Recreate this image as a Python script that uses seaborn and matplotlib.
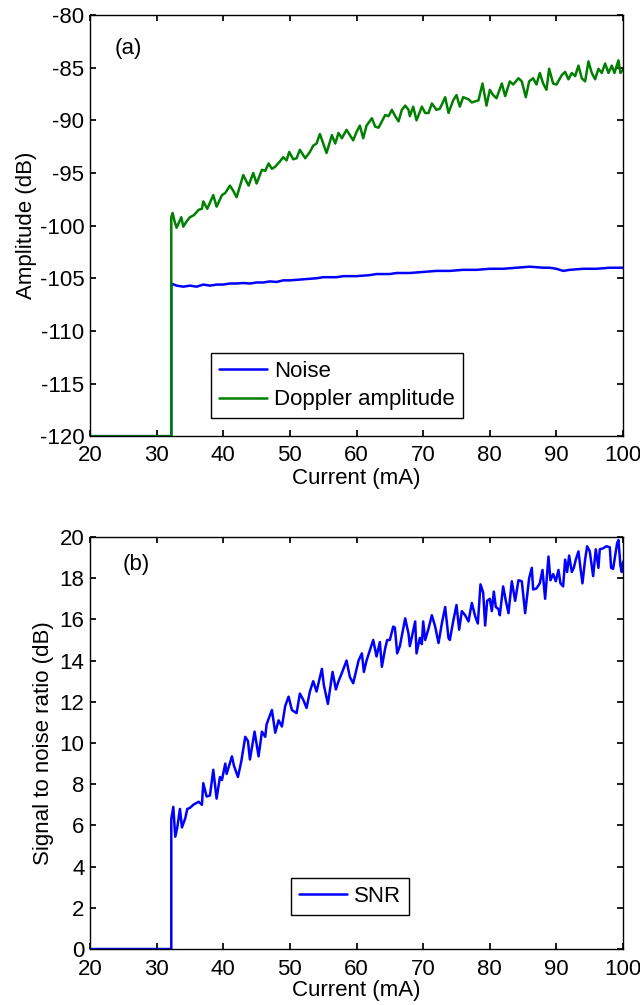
import numpy as np
import pandas as pd
import matplotlib
matplotlib.use("Agg")
import matplotlib.pyplot as plt
import seaborn as sns

# (current in mA, levels in dB)
threshold = 32.2
floor_db = -120.0

noise_x = [20, threshold, threshold, 33, 34, 35, 36, 37, 38, 39, 40, 41, 42, 43, 44, 45, 46, 47,
           48, 49, 50, 52, 54, 55, 57, 58, 60, 62, 63, 65, 66, 68, 70, 72, 74, 76, 78, 80,
           82, 84, 86, 88, 89, 90, 91, 92, 94, 96, 98, 100]
noise_db = [floor_db, floor_db, -105.5, -105.7, -105.8, -105.7, -105.8, -105.6, -105.7, -105.6,
            -105.6, -105.5, -105.5, -105.45, -105.5, -105.4, -105.4, -105.3, -105.35, -105.2,
            -105.2, -105.1, -105.0, -104.9, -104.9, -104.8, -104.8, -104.7, -104.6, -104.6,
            -104.5, -104.5, -104.4, -104.3, -104.3, -104.2, -104.2, -104.1, -104.1, -104.0,
            -103.9, -104.0, -104.0, -104.1, -104.3, -104.2, -104.1, -104.1, -104.0, -104.0]

doppler_x = [20, threshold, threshold, 32.4, 32.7, 33.0, 33.7, 34.0, 34.5, 35.0, 35.6, 36.3, 36.8,
             37.0, 37.6, 38.5, 39.0, 39.8, 40.3, 41.0, 41.5, 42.0, 43.0, 43.8, 44.5, 45.0,
             45.8, 46.3, 46.8, 47.3, 47.8, 48.5, 49.0, 49.5, 49.9, 50.5, 51.0, 51.5, 52.3,
             53.0, 53.5, 54.0, 54.5, 55.0, 55.5, 56.3, 56.8, 57.3, 57.8, 58.5, 59.0, 59.5,
             60.0, 60.5, 61.0, 61.5, 62.3, 62.8, 63.3, 64.3, 64.8, 65.3, 65.8, 66.3, 66.8,
             67.3, 67.8, 68.0, 68.5, 69.0, 69.8, 70.3, 70.8, 71.3, 72.0, 72.5, 73.3, 73.8,
             74.5, 75.0, 75.5, 76.0, 76.8, 77.3, 77.8, 78.3, 78.9, 79.5, 80.0, 80.5, 81.0,
             81.8, 82.3, 83.0, 83.5, 84.3, 84.8, 85.4, 85.9, 86.5, 87.0, 87.5, 88.0, 88.5,
             88.9, 89.5, 90.0, 90.8, 91.3, 91.8, 92.3, 92.8, 93.3, 93.8, 94.3, 94.8, 95.3,
             95.8, 96.3, 96.8, 97.3, 97.8, 98.3, 98.7, 99.3, 99.6, 100]
doppler_db = [floor_db, floor_db, -99.2, -98.8, -99.6, -100.2, -99.2, -100.1, -99.6, -99.2, -99.0,
              -98.5, -98.4, -97.7, -98.4, -97.1, -98.2, -97.1, -96.9, -96.2, -96.7, -97.3,
              -95.2, -96.2, -95.0, -96.0, -94.7, -94.8, -94.1, -94.6, -94.4, -93.9, -93.5,
              -93.8, -93.0, -93.7, -93.6, -92.8, -93.6, -93.0, -92.4, -92.2, -91.3, -92.2,
              -93.1, -91.4, -92.2, -91.2, -91.7, -90.9, -91.4, -91.9, -91.1, -90.5, -91.7,
              -90.5, -89.8, -90.6, -90.7, -89.5, -89.6, -89.0, -89.6, -90.1, -89.0, -88.6,
              -89.0, -89.6, -88.7, -90.0, -88.7, -89.3, -89.3, -88.4, -89.0, -88.9, -87.8,
              -89.3, -88.1, -87.6, -88.7, -87.8, -88.0, -88.3, -88.2, -88.1, -86.5, -88.6,
              -87.1, -87.6, -87.9, -86.5, -87.7, -86.3, -86.6, -86.0, -86.3, -87.8, -86.3,
              -86.0, -86.6, -85.5, -86.5, -87.1, -85.1, -86.5, -86.6, -85.7, -85.4, -86.1,
              -85.5, -85.8, -84.8, -86.0, -86.3, -84.4, -85.5, -86.1, -85.1, -85.5, -84.6,
              -85.5, -84.8, -85.5, -84.3, -85.5, -85.2]

snr_x = [20, threshold, threshold, 32.5, 32.8, 33.1, 33.5, 33.8, 34.3, 34.6, 35.0, 35.5, 36.3, 36.8,
         37.0, 37.5, 38.0, 38.5, 39.0, 39.5, 39.8, 40.3, 40.5, 41.3, 41.6, 42.2, 42.7, 43.3,
         43.7, 44.0, 44.7, 45.3, 45.8, 46.3, 46.5, 47.3, 47.8, 48.3, 48.8, 49.3, 49.8, 50.3,
         51.0, 51.5, 52.0, 52.5, 53.0, 53.5, 54.0, 54.8, 55.1, 55.7, 56.4, 56.9, 57.3, 57.8,
         58.5, 59.0, 59.5, 60.3, 60.8, 61.1, 61.5, 62.0, 62.5, 63.0, 63.5, 63.8, 64.3, 64.6,
         65.0, 65.5, 65.75, 66.1, 66.5, 67.3, 67.8, 68.0, 68.3, 68.8, 69.0, 69.5, 69.8, 70.0,
         70.3, 70.8, 71.3, 71.8, 72.3, 72.8, 73.3, 73.8, 74.0, 74.5, 75.0, 75.4, 75.8, 76.3,
         76.8, 77.3, 77.8, 78.2, 78.6, 79.0, 79.3, 79.6, 80.0, 80.3, 80.6, 80.9, 81.3, 81.5,
         82.0, 82.4, 82.8, 83.3, 83.8, 84.3, 84.8, 85.3, 85.9, 86.3, 86.5, 87.0, 87.5, 87.9,
         88.3, 88.8, 89.1, 89.5, 89.9, 90.3, 90.6, 91.0, 91.3, 91.6, 91.9, 92.3, 92.6, 92.9,
         93.3, 93.6, 93.9, 94.3, 94.6, 95.0, 95.3, 95.5, 95.9, 96.3, 96.5, 97.0, 97.5, 98.0,
         98.2, 98.5, 99.1, 99.3, 99.6, 99.8, 100]
snr_db = [0, 0, 6.3, 6.9, 5.45, 5.9, 6.8, 5.9, 6.35, 6.8, 6.85, 7.0, 7.15, 7.0, 8.05, 7.4, 7.45,
          8.7, 7.3, 8.35, 8.2, 9.0, 8.5, 9.35, 8.9, 8.35, 9.1, 10.3, 10.1, 9.2, 10.55, 9.35,
          10.55, 10.3, 10.9, 11.6, 10.5, 11.1, 10.8, 11.8, 12.25, 11.6, 11.45, 12.4, 12.1,
          11.7, 12.5, 13.0, 12.5, 13.6, 12.8, 11.9, 13.45, 12.6, 13.0, 13.4, 14.0, 13.2, 12.9,
          14.0, 14.35, 13.45, 14.0, 14.5, 15.0, 14.2, 14.9, 13.7, 14.6, 15.0, 15.0, 15.65,
          15.6, 14.35, 14.7, 16.05, 15.3, 14.7, 15.15, 15.9, 14.35, 15.1, 14.8, 15.9, 15.0,
          15.55, 16.2, 15.65, 14.85, 15.8, 16.6, 15.1, 15.0, 15.9, 16.7, 15.5, 16.4, 16.2,
          15.9, 16.8, 16.15, 15.8, 17.7, 17.3, 15.7, 16.9, 17.0, 16.4, 17.35, 16.6, 16.5,
          16.2, 17.6, 16.9, 16.3, 17.85, 16.9, 17.9, 17.85, 16.3, 18.0, 18.5, 17.45, 17.5,
          17.75, 18.4, 17.0, 19.05, 17.9, 18.2, 17.85, 18.4, 17.75, 17.6, 18.9, 18.3, 19.1,
          18.3, 18.5, 18.9, 19.3, 18.5, 17.75, 18.9, 19.55, 19.3, 18.6, 18.1, 19.4, 18.5,
          19.4, 19.45, 19.55, 19.5, 18.5, 18.45, 19.7, 19.85, 18.6, 18.3, 18.8]

x_ticks = [20, 30, 40, 50, 60, 70, 80, 90, 100]
amp_ticks = [-120, -115, -110, -105, -100, -95, -90, -85, -80]
snr_ticks = [0, 2, 4, 6, 8, 10, 12, 14, 16, 18, 20]

FS = 16

sns.set_theme(style="ticks")
plt.rcParams['font.family'] = ['Liberation Sans', 'DejaVu Sans']
plt.rcParams.update({
    'font.size': FS,
    'axes.unicode_minus': False,
    'axes.linewidth': 1.0,
    'axes.edgecolor': 'black',
    'axes.labelcolor': 'black',
    'text.color': 'black',
    'xtick.direction': 'in',
    'ytick.direction': 'in',
    'xtick.top': True,
    'ytick.right': True,
    'xtick.major.size': 4,
    'ytick.major.size': 4,
    'xtick.major.pad': 6.5,
    'ytick.major.pad': 4,
    'xtick.labelsize': FS,
    'ytick.labelsize': FS,
    'xtick.color': 'black',
    'ytick.color': 'black',
})

fig = plt.figure(figsize=(6.4, 10.05), dpi=100)
ax1 = fig.add_axes([0.1406, 0.566, 0.833, 0.419])
ax2 = fig.add_axes([0.1406, 0.0557, 0.833, 0.41])

noise_df = pd.DataFrame({'current': noise_x, 'amp': noise_db})
doppler_df = pd.DataFrame({'current': doppler_x, 'amp': doppler_db})
snr_df = pd.DataFrame({'current': snr_x, 'snr': snr_db})

sns.lineplot(data=noise_df, x='current', y='amp', ax=ax1, color=(0, 0, 1), lw=1.8,
             estimator=None, sort=False, label='Noise')
sns.lineplot(data=doppler_df, x='current', y='amp', ax=ax1, color=(0, 0.5, 0), lw=1.8,
             estimator=None, sort=False, label='Doppler amplitude')
sns.lineplot(data=snr_df, x='current', y='snr', ax=ax2, color=(0, 0, 1), lw=1.8,
             estimator=None, sort=False, label='SNR')

legend_kw = dict(loc='lower left', fancybox=False, framealpha=1, edgecolor='black',
                 handlelength=2.15, borderpad=0.35, labelspacing=0.35, handletextpad=0.35,
                 fontsize=FS, borderaxespad=0)

# top panel
ax1.set_xlim(20, 100)
ax1.set_ylim(-120, -80)
ax1.set_xticks(x_ticks)
ax1.set_yticks(amp_ticks)
ax1.set_xlabel('Current (mA)', fontsize=FS, labelpad=1)
ax1.set_ylabel('Amplitude (dB)', fontsize=FS, labelpad=2)
ax1.text(0.071, 0.92, '(a)', transform=ax1.transAxes, ha='center', va='center', fontsize=FS)
leg1 = ax1.legend(bbox_to_anchor=(0.227, 0.043), **legend_kw)
leg1.get_frame().set_linewidth(1.0)

# bottom panel
ax2.set_xlim(20, 100)
ax2.set_ylim(0, 20)
ax2.set_xticks(x_ticks)
ax2.set_yticks(snr_ticks)
ax2.tick_params(axis='x', pad=7.5)  # keep "20" clear of the "0" y label
ax2.set_xlabel('Current (mA)', fontsize=FS, labelpad=0)
ax2.set_ylabel('Signal to noise ratio (dB)', fontsize=FS, labelpad=4)
ax2.text(0.086, 0.932, '(b)', transform=ax2.transAxes, ha='center', va='center', fontsize=FS)
leg2 = ax2.legend(bbox_to_anchor=(0.377, 0.083), **legend_kw)
leg2.get_frame().set_linewidth(1.0)

for ax in (ax1, ax2):
    for side in ax.spines.values():
        side.set_visible(True)
        side.set_color('black')

fig.savefig('out.png', dpi=100, facecolor='white')
